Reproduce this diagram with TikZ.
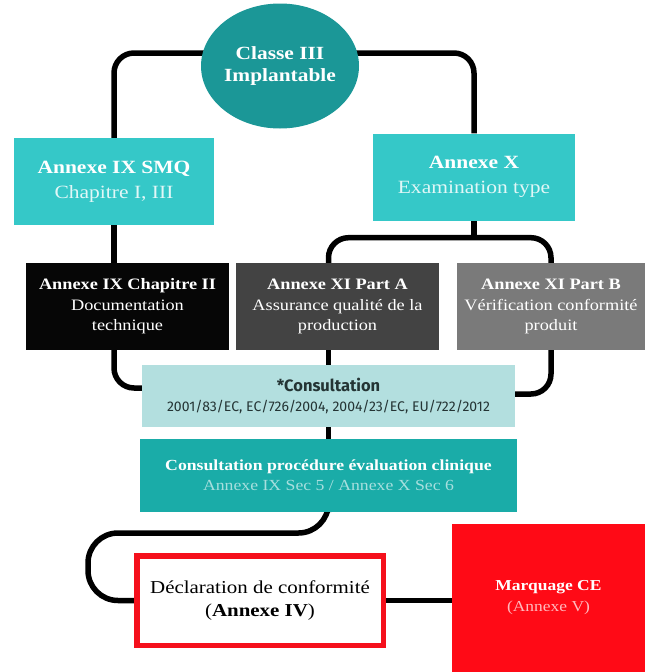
\documentclass[tikz,border=0pt]{standalone}
\usepackage{fontspec}
\setmainfont{Liberation Serif}[FakeStretch=1.15]
\newfontfamily\consfont{Fira Sans}
\usetikzlibrary{calc,backgrounds,shapes.geometric}
\definecolor{clsC}{HTML}{1B9797}
\definecolor{smqC}{HTML}{35C8C8}
\definecolor{chapC}{HTML}{060606}
\definecolor{partAC}{HTML}{434343}
\definecolor{partBC}{HTML}{7A7A7A}
\definecolor{consC}{HTML}{B3DFDF}
\definecolor{consT}{HTML}{243434}
\definecolor{clinC}{HTML}{1AACA8}
\definecolor{redC}{HTML}{F5101C}
\definecolor{markC}{HTML}{FF0A16}
\tikzset{
  box/.style={rectangle, inner sep=0pt, align=center, text=white},
  conn/.style={line width=5.5pt, black, rounded corners=20pt},
}
\begin{document}
\begin{tikzpicture}[x=1pt,y=-1pt]
\useasboundingbox (0,0) rectangle (645,672);

\node[ellipse, fill=clsC, inner sep=0pt, minimum width=138pt, minimum height=125pt, align=center, text=white,
  font=\fontsize{18.6}{22}\selectfont\bfseries] (cls) at (280,66) {Classe III\\Implantable};

\node[box, fill=smqC, minimum width=200pt, minimum height=87pt,
  font=\fontsize{18.7}{25}\selectfont] (smq) at (114,181.5)
  {\textbf{Annexe IX SMQ}\\\textcolor{white!85!smqC}{Chapitre I, III}};
\node[box, fill=smqC, minimum width=202pt, minimum height=87pt,
  font=\fontsize{18.7}{25}\selectfont] (annx) at (474,177)
  {\textbf{Annexe X}\\\textcolor{white!85!smqC}{Examination type}};

\node[box, fill=chapC, minimum width=203pt, minimum height=87pt,
  font=\fontsize{15.9}{20.5}\selectfont] (chap2) at (127.5,306.5)
  {\textbf{Annexe IX Chapitre II}\\Documentation\\technique};
\node[box, fill=partAC, minimum width=203pt, minimum height=87pt,
  font=\fontsize{15.9}{20.5}\selectfont] (partA) at (337.5,306.5)
  {\textbf{Annexe XI Part A}\\Assurance qualité de la\\production};
\node[box, fill=partBC, minimum width=188pt, minimum height=87pt,
  font=\fontsize{15.9}{20.5}\selectfont] (partB) at (551,306.5)
  {\textbf{Annexe XI Part B}\\Vérification conformité\\produit};

\node[box, fill=consC, text=consT, minimum width=373pt, minimum height=62pt,
  font=\consfont\fontsize{14}{20}\selectfont] (cons) at (328.5,396)
  {{\fontsize{16.5}{20}\selectfont\bfseries *Consultation}\\2001/83/EC, EC/726/2004, 2004/23/EC, EU/722/2012};

\node[box, fill=clinC, minimum width=377pt, minimum height=73pt,
  font=\fontsize{15.4}{20}\selectfont] (clin) at (328.5,475.5)
  {\textbf{Consultation procédure évaluation clinique}\\\textcolor{white!62!clinC}{Annexe IX Sec 5 / Annexe X Sec 6}};

\node[box, fill=white, draw=redC, line width=5.5pt, text=black, minimum width=246.5pt, minimum height=89.5pt,
  font=\fontsize{18.2}{23}\selectfont] (decl) at (260,600.5)
  {Déclaration de conformité\\(\textbf{Annexe IV})};

\node[box, fill=markC, minimum width=193pt, minimum height=148pt,
  font=\fontsize{15.2}{21}\selectfont] (mark) at (548.5,598)
  {\textbf{Marquage CE}\\\textcolor{white!72!markC}{(Annexe V)}};

\begin{scope}[on background layer]
  \draw[conn] ([yshift=13pt]cls.center) -| (smq.north);
  \draw[conn] ([yshift=13pt]cls.center) -| (annx.north);
  \draw[conn] (smq.south) -- (smq.south |- chap2.north);
  \coordinate (j1) at ($(annx.south)+(0,17)$);
  \draw[conn] (annx.south) -- (j1);
  \draw[conn] (cons.north |- partA.north) |- (j1) -| (partB.north);
  \draw[conn] (smq.south |- chap2.south) |- ([yshift=8pt]cons.west);
  \draw[conn] (partB.south) |- ([yshift=2pt]cons.east);
  \draw[conn] (cons.north |- partA.south) -- (cons.north);
  \draw[conn] (cons.south) -- (clin.north);
  \coordinate (k) at (88,533);
  \draw[conn, rounded corners=30pt] (clin.south) |- (k) |- (decl.west);
  \draw[conn] (decl.east) -- (decl.east -| mark.west);
\end{scope}
\end{tikzpicture}
\end{document}
